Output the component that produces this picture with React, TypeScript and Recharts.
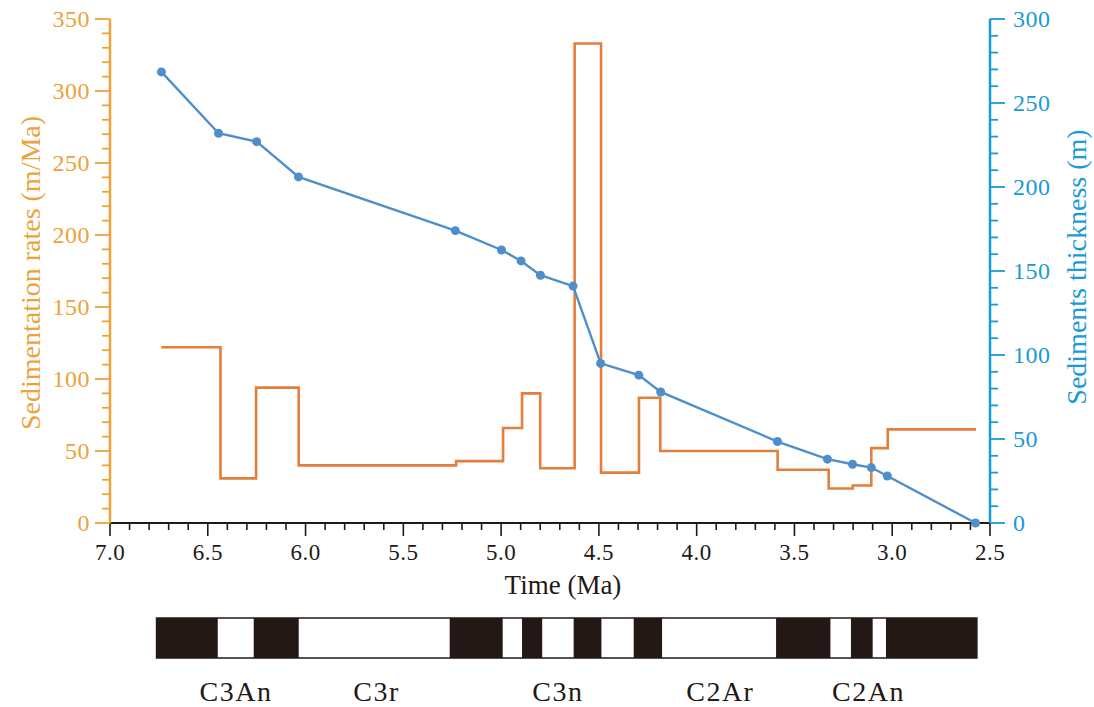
import { Area, ComposedChart, Label, Line, ReferenceArea, XAxis, YAxis } from "recharts";

// ─── Data ─────────────────────────────────────────────────────────────────────
// sedimentation rate steps: each value holds from its start age to the next one
const rateStartAges = [6.737, 6.435, 6.253, 6.035, 5.23, 4.99, 4.893, 4.8, 4.624, 4.489, 4.295, 4.186, 3.586, 3.325, 3.202, 3.107, 3.023];
const rateEndAge = 2.572;
const rateValues = [122, 31, 94, 40, 43, 66, 90, 38, 333, 35, 87, 50, 37, 24, 26, 52, 65];

// tie points of cumulative thickness
const thicknessAges = [6.737, 6.445, 6.25, 6.036, 5.234, 4.998, 4.898, 4.799, 4.632, 4.491, 4.296, 4.184, 3.587, 3.331, 3.203, 3.107, 3.025, 2.574];
const thicknessValues = [268.5, 232, 227, 206, 174, 162.5, 156, 147.5, 141, 95, 88, 78, 48.5, 38, 35, 33, 28, 0];

// polarity column (first interval is normal / black, then alternating)
const polarityBounds = [6.762, 6.449, 6.265, 6.035, 5.263, 4.992, 4.893, 4.79, 4.629, 4.487, 4.322, 4.177, 3.594, 3.316, 3.211, 3.1, 3.032, 2.567];
const chronNames = ["C3An", "C3r", "C3n", "C2Ar", "C2An"];
const chronAges = [6.356, 5.637, 4.71, 3.879, 3.121];

// axis ticks
const timeTicks = Array.from({ length: 46 }, (_, i) => Math.round((2.5 + i * 0.1) * 10) / 10);
const rateTicks = Array.from({ length: 36 }, (_, i) => i * 10);
const thicknessTicks = Array.from({ length: 31 }, (_, i) => i * 10);

// ─── Colours ──────────────────────────────────────────────────────────────────
const COLORS = {
  rateAxis: "#ECA33B",
  rateLine: "#E37E3B",
  depthLine: "#4E8FCB",
  depthAxis: "#1A9AD6",
  dark: "#231815",
} as const;

const FONT = "'Liberation Serif', 'Times New Roman', serif";

const rateData = [
  ...rateStartAges.map((t, i) => ({ time: t, rate: rateValues[i] })),
  { time: rateEndAge, rate: rateValues[rateValues.length - 1] },
];
const thicknessData = thicknessAges.map((t, i) => ({ time: t, thickness: thicknessValues[i] }));

// step data for the polarity column: 1 = normal (black), 0 = reversed (white)
const polarityData = polarityBounds.map((t, i) => ({
  time: t,
  polarity: i === polarityBounds.length - 1 ? (i - 1) % 2 === 0 ? 1 : 0 : i % 2 === 0 ? 1 : 0,
}));

const chronData = chronNames.map((name, i) => ({ name, time: chronAges[i] }));

// ─── Ticks ────────────────────────────────────────────────────────────────────
function TimeTick({ x, y, payload }: any) {
  const v = payload.value as number;
  const major = Math.abs(v * 2 - Math.round(v * 2)) < 1e-6;
  return (
    <g>
      <line x1={x} x2={x} y1={y} y2={y + (major ? 13 : 7)} stroke={COLORS.dark} strokeWidth={1.6} />
      {major && (
        <text x={x} y={y + 37} textAnchor="middle" fontSize={23} letterSpacing={0.5} fontFamily={FONT} fill={COLORS.dark}>
          {v.toFixed(1)}
        </text>
      )}
    </g>
  );
}

function RateTick({ x, y, payload }: any) {
  const v = payload.value as number;
  const major = v % 50 === 0;
  return (
    <g>
      <line x1={x - (major ? 15 : 8)} x2={x} y1={y} y2={y} stroke={COLORS.rateAxis} strokeWidth={1.8} />
      {major && (
        <text x={x - 20} y={y} dy="0.35em" textAnchor="end" fontSize={24} letterSpacing={0.5} fontFamily={FONT} fill={COLORS.rateAxis}>
          {v}
        </text>
      )}
    </g>
  );
}

function ThicknessTick({ x, y, payload }: any) {
  const v = payload.value as number;
  const major = v % 50 === 0;
  return (
    <g>
      <line x1={x} x2={x + (major ? 15 : 8)} y1={y} y2={y} stroke={COLORS.depthAxis} strokeWidth={1.8} />
      {major && (
        <text x={x + 23} y={y} dy="0.35em" textAnchor="start" fontSize={24} letterSpacing={0.5} fontFamily={FONT} fill={COLORS.depthAxis}>
          {v}
        </text>
      )}
    </g>
  );
}

function ChronTick({ x, y, payload, index }: any) {
  return (
    <text x={x} y={y + 43} textAnchor="middle" fontSize={28} letterSpacing={1.5} fontFamily={FONT} fill={COLORS.dark}>
      {chronData[index]?.name ?? payload.value}
    </text>
  );
}

// ─── Main ─────────────────────────────────────────────────────────────────────
export default function App() {
  return (
    <div style={{ position: "absolute", left: 0, top: 0, width: 1094, height: 707, background: "#fff" }}>
      <ComposedChart width={1094} height={600} margin={{ top: 19, right: 0, bottom: 0, left: 0 }}>
        <XAxis
          dataKey="time"
          type="number"
          domain={[2.5, 7]}
          reversed
          ticks={timeTicks}
          interval={0}
          allowDataOverflow
          height={77}
          tickSize={0}
          tickMargin={0}
          tickLine={false}
          tick={<TimeTick />}
          axisLine={{ stroke: COLORS.dark, strokeWidth: 2 }}
        >
          <Label
            content={({ viewBox }: any) => (
              <text
                x={viewBox.x + viewBox.width / 2 + 13}
                y={viewBox.y + 71}
                textAnchor="middle"
                fontSize={27}
                fontFamily={FONT}
                fill={COLORS.dark}
              >
                Time (Ma)
              </text>
            )}
          />
        </XAxis>
        <YAxis
          yAxisId="rate"
          orientation="left"
          domain={[0, 350]}
          ticks={rateTicks}
          interval={0}
          width={110}
          tickSize={0}
          tickMargin={0}
          tickLine={false}
          tick={<RateTick />}
          axisLine={{ stroke: COLORS.rateAxis, strokeWidth: 2.5 }}
        >
          <Label
            content={({ viewBox }: any) => {
              const cx = viewBox.x + 40;
              const cy = viewBox.y + viewBox.height / 2 + 2;
              return (
                <text
                  x={cx}
                  y={cy}
                  transform={`rotate(-90 ${cx} ${cy})`}
                  textAnchor="middle"
                  fontSize={28}
                  fontFamily={FONT}
                  fill={COLORS.rateAxis}
                >
                  Sedimentation rates (m/Ma)
                </text>
              );
            }}
          />
        </YAxis>
        <YAxis
          yAxisId="thickness"
          orientation="right"
          domain={[0, 300]}
          ticks={thicknessTicks}
          interval={0}
          width={104}
          tickSize={0}
          tickMargin={0}
          tickLine={false}
          tick={<ThicknessTick />}
          axisLine={{ stroke: COLORS.depthAxis, strokeWidth: 2.5 }}
        >
          <Label
            content={({ viewBox }: any) => {
              const cx = viewBox.x + 96;
              const cy = viewBox.y + viewBox.height / 2 - 4;
              return (
                <text
                  x={cx}
                  y={cy}
                  transform={`rotate(-90 ${cx} ${cy})`}
                  textAnchor="middle"
                  fontSize={28}
                  fontFamily={FONT}
                  fill={COLORS.depthAxis}
                >
                  Sediments thickness (m)
                </text>
              );
            }}
          />
        </YAxis>

        <Line
          yAxisId="rate"
          data={rateData}
          dataKey="rate"
          type="stepAfter"
          stroke={COLORS.rateLine}
          strokeWidth={2.6}
          dot={false}
          isAnimationActive={false}
        />
        <Line
          yAxisId="thickness"
          data={thicknessData}
          dataKey="thickness"
          type="linear"
          stroke={COLORS.depthLine}
          strokeWidth={2.4}
          dot={{ r: 4.5, fill: COLORS.depthLine, stroke: "none" }}
          isAnimationActive={false}
        />
      </ComposedChart>

      {/* ── Polarity column ── */}
      <div style={{ position: "absolute", left: 0, top: 600 }}>
        <ComposedChart width={1094} height={107} data={chronData} margin={{ top: 18, right: 104, bottom: 0, left: 110 }}>
          <XAxis
            dataKey="time"
            type="number"
            domain={[2.5, 7]}
            reversed
            ticks={chronAges}
            interval={0}
            height={49}
            tickSize={0}
            tickMargin={0}
            tickLine={false}
            axisLine={false}
            tick={<ChronTick />}
          />
          <YAxis hide domain={[0, 1]} allowDataOverflow />
          <Area
            data={polarityData}
            dataKey="polarity"
            type="stepAfter"
            baseValue={0}
            fill={COLORS.dark}
            fillOpacity={1}
            stroke="none"
            dot={false}
            activeDot={false}
            isAnimationActive={false}
          />
          <ReferenceArea
            x1={polarityBounds[0]}
            x2={polarityBounds[polarityBounds.length - 1]}
            y1={0}
            y2={1}
            fill="none"
            stroke={COLORS.dark}
            strokeWidth={1.5}
          />
        </ComposedChart>
      </div>
    </div>
  );
}
